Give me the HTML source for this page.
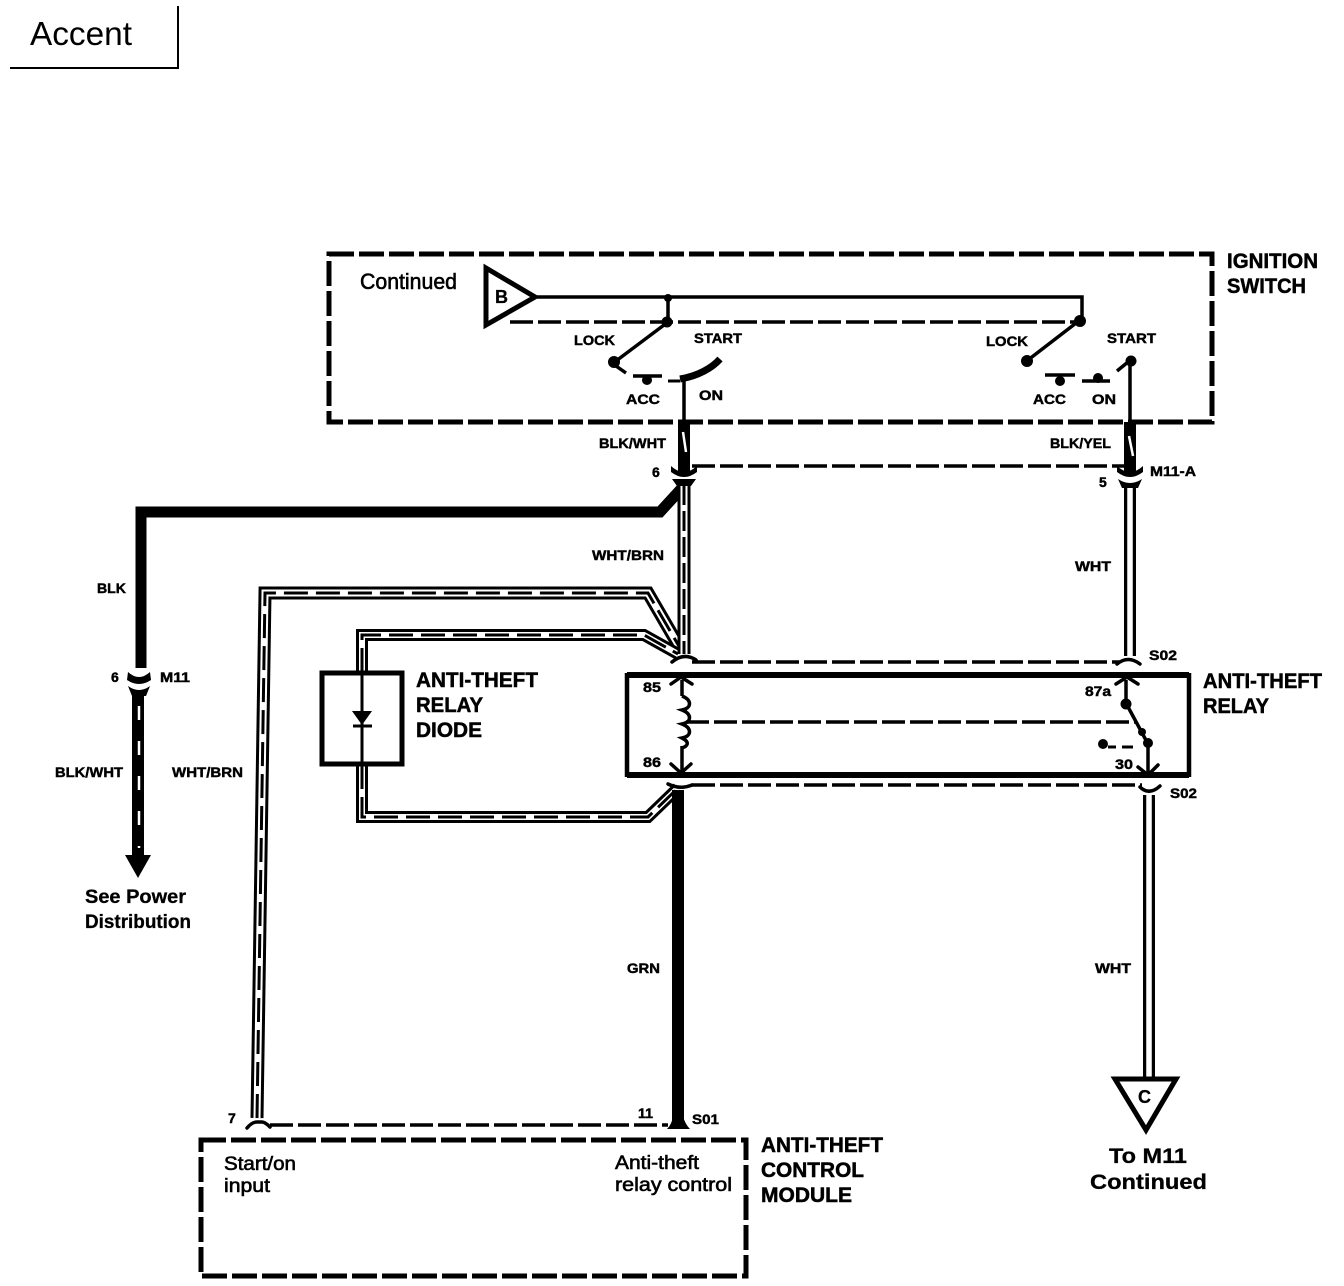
<!DOCTYPE html>
<html><head><meta charset="utf-8"><style>
html,body{margin:0;padding:0;background:#fff}
svg{display:block}
text{font-family:"Liberation Sans",sans-serif;fill:#000}
.b{font-weight:bold;stroke:#000;stroke-width:.3}
.s{font-weight:bold;font-size:14px;stroke:#000;stroke-width:.45}
.l{font-weight:bold;font-size:21px;stroke:#000;stroke-width:.5}
.m{font-size:22px;stroke:#000;stroke-width:.6}
.k{fill:none;stroke:#000;stroke-linecap:butt;stroke-linejoin:miter}
.d{fill:none;stroke:#000;stroke-width:5;stroke-dasharray:25 5}
.t{fill:none;stroke:#000;stroke-width:3.5;stroke-dasharray:23 5}
.w{fill:none;stroke:#fff}
.h{fill:none;stroke:#000;stroke-width:3.5;stroke-linecap:round;stroke-linejoin:round}
</style></head><body>
<svg width="1344" height="1286" viewBox="0 0 1344 1286" xmlns="http://www.w3.org/2000/svg">
<rect width="1344" height="1286" fill="#fff"/>
<path class="k" stroke-width="2" d="M10 68H178V6"/>
<text x="30" y="45" font-size="33" textLength="102" lengthAdjust="spacingAndGlyphs">Accent</text>

<!-- ignition switch -->
<rect class="d" x="329" y="254" width="883" height="168"/>
<path class="k" stroke-width="5" d="M486 268L535 297L486 325Z"/>
<path class="k" stroke-width="3.5" d="M537 297H1082V320M668 297V322M668 322L616 361M1080 320L1028 360"/>
<path class="t" stroke-width="3" d="M510 322H1076"/>
<circle cx="668" cy="298" r="4"/><circle cx="667" cy="322" r="5.5"/><circle cx="1080" cy="321" r="6"/>
<circle cx="614" cy="362" r="6"/><circle cx="1027" cy="361" r="6"/>
<path class="k" stroke-width="3.5" d="M616 366L626 373M633 376H662M1045 375H1075M1082 381H1110M1117 371L1128 362"/>
<circle cx="647" cy="380" r="5"/><circle cx="1060" cy="381" r="5"/><circle cx="1098" cy="378" r="5"/><circle cx="1131" cy="361" r="5.5"/>
<path class="k" stroke-width="3" d="M668 381H680"/>
<path class="k" stroke-width="7" stroke-linecap="round" d="M680 379C698 376 712 368 720 359"/>
<path class="k" stroke-width="3.5" d="M684 380V425M1130 361V425"/>

<!-- BLK thick -->
<path class="k" stroke-width="11" d="M682 488L660 512H141V668"/>

<!-- WHT/BRN wires -->
<path class="k" stroke-width="13" d="M257 1118L265 593H648L680 648"/>
<path class="w" stroke-width="7" d="M257 1118L265 593H648L680 648"/>
<path class="k" stroke-width="3" stroke-dasharray="24 8" d="M257 1118L265 593H648L680 648"/>
<path class="k" stroke-width="12" d="M362 672V635H644L678 654"/>
<path class="w" stroke-width="6" d="M362 672V635H644L678 654"/>
<path class="k" stroke-width="3" stroke-dasharray="24 8" d="M362 672V635H644L678 654"/>
<path class="k" stroke-width="12" d="M362 765V817H648L678 788"/>
<path class="w" stroke-width="6" d="M362 765V817H648L678 788"/>
<path class="k" stroke-width="3" stroke-dasharray="24 8" d="M362 765V817H648L678 788"/>
<path class="k" stroke-width="13" d="M684 485V654"/>
<path class="w" stroke-width="7" d="M684 485V654"/>
<path class="k" stroke-width="3" stroke-dasharray="20 6" d="M684 485V654"/>

<!-- BLK/WHT, BLK/YEL -->
<path class="k" stroke-width="12" d="M684 422V472M1130 422V472"/>
<path class="w" stroke-width="2.5" d="M683 432L686 452M1129 436L1133 456"/>
<path class="k" stroke-width="12" d="M138 690V858"/>
<path class="w" stroke-width="2.5" stroke-dasharray="14 21" d="M139 706V848"/>
<path d="M125 855H151L138 878Z"/>

<!-- WHT -->
<path class="k" stroke-width="12" d="M1130 488V656M1149 795V1080"/>
<path class="w" stroke-width="5.5" d="M1130 488V656M1149 795V1080"/>

<!-- GRN -->
<path class="k" stroke-width="12" d="M678 790V1122"/>

<!-- connector heads -->
<path d="M671 466Q684 478 697 466L697 472Q684 482 671 472ZM1117 466Q1130 478 1143 466L1143 472Q1130 482 1117 472Z"/>
<path d="M672 479L696 479L691 486H677ZM1118 479Q1130 487 1142 479L1138 488H1122Z"/>
<path d="M128 672Q139 682 150 672L151 680Q139 688 127 680ZM128 686Q139 694 150 686L146 696H132Z"/>
<path class="h" d="M672 662Q684 652 696 660M1117 664Q1128 655 1140 664"/>
<path class="h" d="M671 684L681 677L692 684M1116 684L1127 677L1138 684"/>
<path class="h" d="M668 784Q680 790 692 785M1140 787Q1149 796 1160 786"/>
<path class="h" stroke-width="4" d="M247 1128Q252 1122 257 1122H262Q265 1122 270 1127"/>
<path d="M667 1129Q672 1124 673 1116H683Q685 1124 690 1129Z"/>

<path class="t" d="M692 466H1124M692 662H1120M692 785H1142M270 1125H668"/>

<!-- diode -->
<rect class="k" stroke-width="5" x="322" y="673" width="80" height="91" fill="#fff"/>
<path class="k" stroke-width="3" d="M362 673V765M353 726H372"/>
<path d="M352 711H372L362 725Z"/>

<!-- relay -->
<path class="k" stroke-width="6" d="M627 675H1189M627 775H1189"/>
<path class="k" stroke-width="4.5" d="M627 673V777M1189 673V777"/>
<path class="k" stroke-width="3.5" d="M682 680V696M682 746V772"/>
<path class="k" stroke-width="3.5" d="M682 696C692 700 692 708 682 710C692 714 692 722 682 724C692 728 692 736 682 738C690 742 688 746 682 748"/>
<path class="h" d="M671 764L681 773L691 764M1138 767L1148 775L1158 765"/>
<path class="k" stroke-width="3.5" d="M1126 680V703M1127 705L1148 744M1148 746V772"/>
<circle cx="1126" cy="704" r="5.5"/><circle cx="1142" cy="732" r="4"/><circle cx="1148" cy="743" r="5"/><circle cx="1103" cy="744" r="5"/>
<path class="k" stroke-width="3" d="M1108 747H1116M1122 747H1133"/>
<path class="t" d="M686 722H1136"/>

<!-- C triangle -->
<path class="k" stroke-width="5" fill="#fff" d="M1115 1079H1176L1146 1130Z"/>

<!-- control module -->
<rect class="d" x="201" y="1140" width="545" height="136"/>

<!-- labels -->
<text x="495" y="303" class="b" font-size="18">B</text>
<text x="1138" y="1103" class="b" font-size="18">C</text>
<text x="360" y="289" class="m" textLength="97" lengthAdjust="spacingAndGlyphs">Continued</text>
<text x="1227" y="268" class="l" textLength="91" lengthAdjust="spacingAndGlyphs">IGNITION</text>
<text x="1227" y="293" class="l" textLength="79" lengthAdjust="spacingAndGlyphs">SWITCH</text>
<text x="574" y="345" class="s" textLength="41" lengthAdjust="spacingAndGlyphs">LOCK</text>
<text x="694" y="343" class="s" textLength="48" lengthAdjust="spacingAndGlyphs">START</text>
<text x="626" y="404" class="s" textLength="34" lengthAdjust="spacingAndGlyphs">ACC</text>
<text x="699" y="400" class="s" textLength="24" lengthAdjust="spacingAndGlyphs">ON</text>
<text x="986" y="346" class="s" textLength="42" lengthAdjust="spacingAndGlyphs">LOCK</text>
<text x="1107" y="343" class="s" textLength="49" lengthAdjust="spacingAndGlyphs">START</text>
<text x="1033" y="404" class="s" textLength="33" lengthAdjust="spacingAndGlyphs">ACC</text>
<text x="1092" y="404" class="s" textLength="24" lengthAdjust="spacingAndGlyphs">ON</text>
<text x="599" y="448" class="s" textLength="67" lengthAdjust="spacingAndGlyphs">BLK/WHT</text>
<text x="1050" y="448" class="s" textLength="61" lengthAdjust="spacingAndGlyphs">BLK/YEL</text>
<text x="652" y="477" class="s">6</text>
<text x="1099" y="487" class="s">5</text>
<text x="1150" y="476" class="s" textLength="46" lengthAdjust="spacingAndGlyphs">M11-A</text>
<text x="592" y="560" class="s" textLength="72" lengthAdjust="spacingAndGlyphs">WHT/BRN</text>
<text x="1075" y="571" class="s" textLength="36" lengthAdjust="spacingAndGlyphs">WHT</text>
<text x="97" y="593" class="s" textLength="29" lengthAdjust="spacingAndGlyphs">BLK</text>
<text x="111" y="682" class="s">6</text>
<text x="160" y="682" class="s" textLength="30" lengthAdjust="spacingAndGlyphs">M11</text>
<text x="55" y="777" class="s" textLength="68" lengthAdjust="spacingAndGlyphs">BLK/WHT</text>
<text x="172" y="777" class="s" textLength="71" lengthAdjust="spacingAndGlyphs">WHT/BRN</text>
<text x="85" y="903" class="b" font-size="19" textLength="101" lengthAdjust="spacingAndGlyphs">See Power</text>
<text x="85" y="928" class="b" font-size="19" textLength="106" lengthAdjust="spacingAndGlyphs">Distribution</text>
<text x="416" y="687" class="l" textLength="122" lengthAdjust="spacingAndGlyphs">ANTI-THEFT</text>
<text x="416" y="712" class="l" textLength="67" lengthAdjust="spacingAndGlyphs">RELAY</text>
<text x="416" y="737" class="l" textLength="66" lengthAdjust="spacingAndGlyphs">DIODE</text>
<text x="1203" y="688" class="l" textLength="119" lengthAdjust="spacingAndGlyphs">ANTI-THEFT</text>
<text x="1203" y="713" class="l" textLength="66" lengthAdjust="spacingAndGlyphs">RELAY</text>
<text x="643" y="692" class="s" textLength="18" lengthAdjust="spacingAndGlyphs">85</text>
<text x="643" y="767" class="s" textLength="18" lengthAdjust="spacingAndGlyphs">86</text>
<text x="1085" y="696" class="s" textLength="26" lengthAdjust="spacingAndGlyphs">87a</text>
<text x="1115" y="769" class="s" textLength="18" lengthAdjust="spacingAndGlyphs">30</text>
<text x="1149" y="660" class="s" textLength="28" lengthAdjust="spacingAndGlyphs">S02</text>
<text x="1170" y="798" class="s" textLength="27" lengthAdjust="spacingAndGlyphs">S02</text>
<text x="627" y="973" class="s" textLength="33" lengthAdjust="spacingAndGlyphs">GRN</text>
<text x="1095" y="973" class="s" textLength="36" lengthAdjust="spacingAndGlyphs">WHT</text>
<text x="228" y="1123" class="s">7</text>
<text x="638" y="1118" class="s" textLength="15" lengthAdjust="spacingAndGlyphs">11</text>
<text x="692" y="1124" class="s" textLength="27" lengthAdjust="spacingAndGlyphs">S01</text>
<text x="224" y="1170" class="m" style="font-size:19px" textLength="72" lengthAdjust="spacingAndGlyphs">Start/on</text>
<text x="224" y="1192" class="m" style="font-size:19px" textLength="46" lengthAdjust="spacingAndGlyphs">input</text>
<text x="615" y="1169" class="m" style="font-size:19px" textLength="84" lengthAdjust="spacingAndGlyphs">Anti-theft</text>
<text x="615" y="1191" class="m" style="font-size:19px" textLength="117" lengthAdjust="spacingAndGlyphs">relay control</text>
<text x="761" y="1152" class="l" textLength="122" lengthAdjust="spacingAndGlyphs">ANTI-THEFT</text>
<text x="761" y="1177" class="l" textLength="103" lengthAdjust="spacingAndGlyphs">CONTROL</text>
<text x="761" y="1202" class="l" textLength="91" lengthAdjust="spacingAndGlyphs">MODULE</text>
<text x="1109" y="1163" class="b" font-size="21" textLength="78" lengthAdjust="spacingAndGlyphs">To M11</text>
<text x="1090" y="1189" class="b" font-size="21" textLength="117" lengthAdjust="spacingAndGlyphs">Continued</text>
</svg>
</body></html>
